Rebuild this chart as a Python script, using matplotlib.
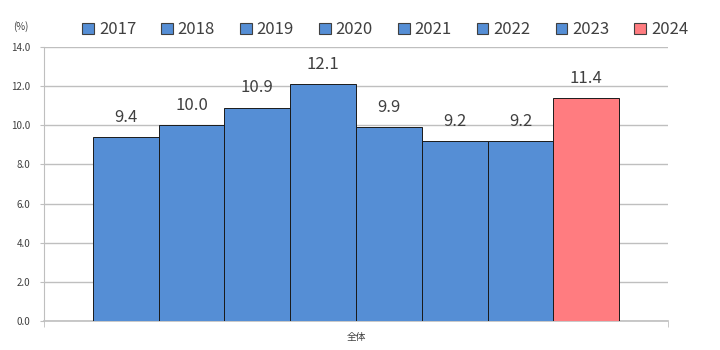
import matplotlib.pyplot as plt
from matplotlib.patches import Patch

years = ["2017", "2018", "2019", "2020", "2021", "2022", "2023", "2024"]
values = [9.4, 10.0, 10.9, 12.1, 9.9, 9.2, 9.2, 11.4]
category = "全体"
yticks = [0, 2, 4, 6, 8, 10, 12, 14]

BLUE = "#558ED5"
PINK = "#FF7C80"
GRID = "#BFBFBF"
TEXT = "#404040"


def main():
    plt.rcParams["font.family"] = ["Noto Sans CJK JP", "DejaVu Sans"]

    fig = plt.figure(figsize=(7.2, 3.5), dpi=100)
    ax = fig.add_axes([0.061, 0.083, 0.867, 0.783])

    colors = [BLUE] * (len(years) - 1) + [PINK]
    n = len(years)
    handles = []
    for i, (yr, v, c) in enumerate(zip(years, values, colors)):
        x = i - (n - 1) / 2
        ax.bar(x, v, width=1.0, color=c, edgecolor="#1a1a1a", linewidth=0.7, zorder=3)
        ax.annotate(f"{v:.1f}", (x, v), xytext=(0, 8), textcoords="offset points",
                    ha="center", va="bottom", fontsize=12, color=TEXT)
        handles.append(Patch(facecolor=c, edgecolor="#404040", linewidth=0.8, label=yr))

    lim = n / 2 + 0.745
    ax.set_xlim(-lim, lim)
    ax.set_ylim(0, 14)
    ax.set_yticks(yticks)
    ax.set_yticklabels([f"{t:.1f}" for t in yticks], fontsize=7, color=TEXT)
    ax.set_xticks([0])
    ax.set_xticklabels([category], fontsize=7, color=TEXT)
    ax.set_xticks([-lim, lim], minor=True)
    ax.tick_params(axis="x", which="major", length=0, pad=8)
    ax.tick_params(axis="x", which="minor", length=4, color=GRID)
    ax.tick_params(axis="y", length=3, color=GRID, pad=7)

    ax.yaxis.grid(True, color=GRID, linewidth=1.0, zorder=0)
    for side in ["top", "right"]:
        ax.spines[side].set_visible(False)
    ax.spines["left"].set_color(GRID)
    ax.spines["bottom"].set_color(GRID)
    ax.spines["bottom"].set_linewidth(1.2)

    fig.text(0.018, 0.925, "(%)", fontsize=7, color=TEXT, ha="left", va="center")

    fig.legend(handles=handles, loc="center", bbox_to_anchor=(0.535, 0.915), ncol=n,
               frameon=False, fontsize=12, handlelength=0.7, handleheight=0.7,
               handletextpad=0.3, columnspacing=1.5, labelcolor=TEXT)

    fig.savefig("out.png", dpi=100)


if __name__ == "__main__":
    main()
